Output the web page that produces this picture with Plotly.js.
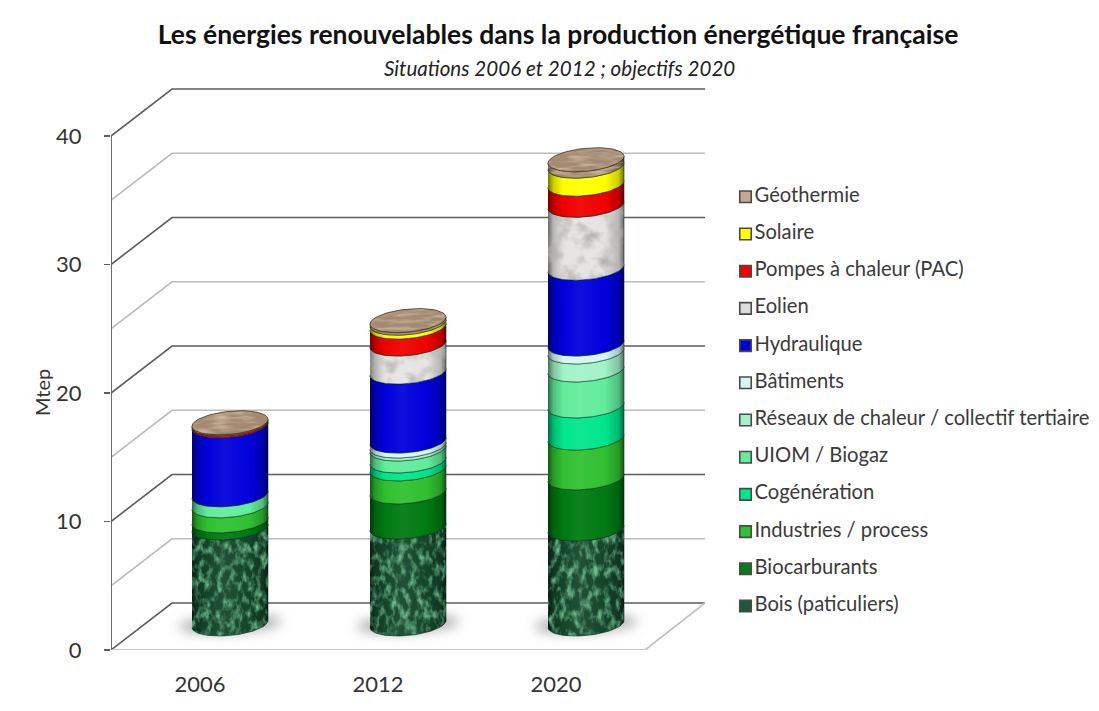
<!DOCTYPE html>
<html lang="fr">
<head>
<meta charset="utf-8">
<title>Les énergies renouvelables dans la production énergétique française</title>
<script src="https://cdn.plot.ly/plotly-3.0.1.min.js"></script>
<style>html,body{margin:0;padding:0;background:#fff}#chart{width:1099px;height:711px}</style>
</head>
<body>
<svg width="0" height="0" style="position:absolute">
  <defs>
    <filter id="texBois" x="0" y="0" width="1" height="1" color-interpolation-filters="sRGB">
      <feTurbulence type="fractalNoise" baseFrequency="0.16 0.09" numOctaves="3" seed="7" result="n"/>
      <feColorMatrix in="n" type="matrix" values="0 0 0 0 0.42  0 0 0 0 0.72  0 0 0 0 0.54  2.6 0 0 0 -1.12" result="v"/>
      <feComposite in="v" in2="SourceAlpha" operator="in" result="c"/>
      <feMerge><feMergeNode in="SourceGraphic"/><feMergeNode in="c"/></feMerge>
    </filter>
    <filter id="texEolien" x="0" y="0" width="1" height="1" color-interpolation-filters="sRGB">
      <feTurbulence type="fractalNoise" baseFrequency="0.06 0.07" numOctaves="3" seed="3" result="n"/>
      <feColorMatrix in="n" type="matrix" values="0 0 0 0 0.7  0 0 0 0 0.69  0 0 0 0 0.68  2.2 0 0 0 -0.9" result="v"/>
      <feComposite in="v" in2="SourceAlpha" operator="in" result="c"/>
      <feMerge><feMergeNode in="SourceGraphic"/><feMergeNode in="c"/></feMerge>
    </filter>
    <filter id="texGeo" x="0" y="0" width="1" height="1" color-interpolation-filters="sRGB">
      <feTurbulence type="fractalNoise" baseFrequency="0.05 0.28" numOctaves="2" seed="11" result="n"/>
      <feColorMatrix in="n" type="matrix" values="0 0 0 0 0.8  0 0 0 0 0.72  0 0 0 0 0.62  2.2 0 0 0 -0.9" result="v"/>
      <feComposite in="v" in2="SourceAlpha" operator="in" result="c"/>
      <feMerge><feMergeNode in="SourceGraphic"/><feMergeNode in="c"/></feMerge>
    </filter>
    <filter id="softShadow" x="-30%" y="-80%" width="160%" height="260%">
      <feGaussianBlur stdDeviation="6"/>
    </filter>
  </defs>
</svg>
<div id="chart"></div>
<script>
// Years and production by source, in Mtep, stacked from the bottom of each column.
const years = ['2006', '2012', '2020'];
const bois = [7.48, 7.55, 7.40];
const biocarburants = [0.55, 2.73, 3.97];
const industries = [1.17, 1.79, 3.10];
const cogeneration = [0, 0.62, 2.50];
const uiomBiogaz = [0.86, 0.93, 2.80];
const reseauxChaleur = [0, 0.23, 1.40];
const batiments = [0, 0.39, 0.62];
const hydraulique = [5.37, 5.37, 5.90];
const eolien = [0, 2.18, 4.90];
const pac = [0.15, 1.32, 1.64];
const solaire = [0, 0.30, 1.40];
const geothermie = [0.08, 0.20, 0.50];

const seriesNames = ['Bois (paticuliers)', 'Biocarburants', 'Industries / process', 'Cogénération',
  'UIOM / Biogaz', 'Réseaux de chaleur / collectif tertiaire', 'Bâtiments', 'Hydraulique', 'Eolien',
  'Pompes à chaleur (PAC)', 'Solaire', 'Géothermie'];
const seriesValues = [bois, biocarburants, industries, cogeneration, uiomBiogaz, reseauxChaleur,
  batiments, hydraulique, eolien, pac, solaire, geothermie];
const seriesColors = ['#14452a', '#007a12', '#30c030', '#00e68c', '#62ec9c', '#a2f2c8',
  '#d4f6f4', '#0000dc', '#e6e4e2', '#f00000', '#ffff00', '#a48a72'];
const keyColors = ['#1e5a3a', '#0a7a1a', '#30c030', '#00e68c', '#62ec9c', '#a2f2c8',
  '#d4f6f4', '#0000dc', '#dcdcdc', '#f00000', '#ffff00', '#caa890'];
const textureFilters = {0: 'texBois', 8: 'texEolien', 11: 'texGeo'};

const majorLevels = [0, 10, 20, 30, 40];
const minorLevels = [5, 15, 25, 35];

// Pixel frame of the plotting area and the scales that follow from it.
const W = 1099, H = 711, LEFT = 111, TOP = 88, BOTTOM = 650;
const PX_PER_YEAR = 178, PX_PER_MTEP = 12.85, YEAR0_PX = 200;
const xpx = p => p / PX_PER_YEAR;
const ypx = p => p / PX_PER_MTEP;
const xRange = [(LEFT - YEAR0_PX) / PX_PER_YEAR, (W - YEAR0_PX) / PX_PER_YEAR];
const yRange = [0, (BOTTOM - TOP) / PX_PER_MTEP];

// Oblique projection of the chart box.
const depthX = xpx(61), depthY = ypx(47);
const frontLeft = xRange[0], backLeft = frontLeft + depthX;
const backRight = xpx(705 - YEAR0_PX), frontRight = xpx(645 - YEAR0_PX);

// Cylinder proportions.
const rx = xpx(38), ry = ypx(11.5), tilt = ypx(3.5);
const baseX = xpx(30), baseY = ypx(26);

function arc(cx, cy, from, to, n) {
  const xs = [], ys = [];
  for (let i = 0; i <= n; i++) {
    const t = from + (to - from) * i / n;
    xs.push(cx + rx * Math.cos(t));
    ys.push(cy - ry * Math.sin(t) + tilt * Math.cos(t));
  }
  return [xs, ys];
}

function shade(hex, f) {
  const v = [1, 3, 5].map(i => parseInt(hex.substr(i, 2), 16));
  return 'rgb(' + v.map(c => Math.round(f >= 1 ? c + (255 - c) * (f - 1) : c * f)).join(',') + ')';
}

function cylinderGradient(color) {
  return {
    type: 'horizontal',
    colorscale: [[0, shade(color, 0.45)], [0.07, shade(color, 0.8)], [0.2, color], [0.42, shade(color, 1.06)],
      [0.75, color], [0.93, shade(color, 0.8)], [1, shade(color, 0.45)]]
  };
}

function wallLine(level, color, width) {
  return {
    x: [frontLeft, backLeft, backRight],
    y: [level, level + depthY, level + depthY],
    mode: 'lines', line: {color: color, width: width}, hoverinfo: 'skip', showlegend: false, cliponaxis: false
  };
}

const traces = [];
minorLevels.forEach(v => traces.push(wallLine(v, '#bcbcbc', 1.6)));
majorLevels.forEach(v => traces.push(wallLine(v, '#5c5c5c', 1.6)));

// Floor edges and vertical axis.
traces.push({x: [frontLeft, frontRight, backRight], y: [0, 0, depthY], mode: 'lines',
  line: {color: '#c4c4c4', width: 1.8}, hoverinfo: 'skip', showlegend: false, cliponaxis: false});
traces.push({x: [frontLeft, frontLeft], y: [0, 40], mode: 'lines',
  line: {color: '#5c5c5c', width: 1.8}, hoverinfo: 'skip', showlegend: false, cliponaxis: false});

const filtered = [];

// Soft shadows on the floor.
years.forEach((yr, i) => {
  const cx = i + baseX, cy = baseY;
  const [xs, ys] = arc(cx, cy, 0, 2 * Math.PI, 48);
  filtered.push([traces.length, 'softShadow']);
  traces.push({x: xs.map(v => cx + (v - cx) * 1.35), y: ys.map(v => cy + (v - cy) * 0.8), mode: 'lines', fill: 'toself',
    fillcolor: 'rgba(110,110,110,0.55)', line: {width: 0}, hoverinfo: 'skip', showlegend: false});
});

// Stacked cylinder segments, then the top cap.
years.forEach((yr, i) => {
  const cx = i + baseX;
  let level = baseY;
  seriesValues.forEach((vals, s) => {
    const v = vals[i];
    if (!v) return;
    const [bx, by] = arc(cx, level, Math.PI, 0, 36);
    const [tx, ty] = arc(cx, level + v, 0, Math.PI, 36);
    if (textureFilters[s]) filtered.push([traces.length, textureFilters[s]]);
    traces.push({
      x: bx.concat(tx), y: by.concat(ty), mode: 'lines', fill: 'toself',
      fillcolor: seriesColors[s], fillgradient: cylinderGradient(seriesColors[s]),
      line: {color: 'rgba(0,40,20,0.6)', width: 0.9}, name: seriesNames[s] + ' ' + yr,
      hoverinfo: 'skip', showlegend: false
    });
    level += v;
  });
  const [cxs, cys] = arc(cx, level, 0, 2 * Math.PI, 60);
  filtered.push([traces.length, 'texGeo']);
  traces.push({
    x: cxs, y: cys, mode: 'lines', fill: 'toself', fillcolor: '#a48a72',
    line: {color: 'rgba(60,40,20,0.75)', width: 1}, hoverinfo: 'skip', showlegend: false
  });
});

// Colour key, one row per source, with Bois at the bottom.
const keyRows = seriesNames.map((n, i) => i);
traces.push({
  x: keyRows.map(() => 0), y: keyRows, xaxis: 'x2', yaxis: 'y2', mode: 'markers',
  marker: {symbol: 'square', size: 11.5, color: keyColors, line: {color: '#4a4a4a', width: 1.6}},
  hoverinfo: 'skip', showlegend: false, cliponaxis: false
});
traces.push({
  x: keyRows.map(() => 9), y: keyRows, xaxis: 'x2', yaxis: 'y2', mode: 'text',
  text: seriesNames, textposition: 'middle right',
  textfont: {family: 'Lato, Carlito, sans-serif', size: 20.2, color: '#3a3a3a'},
  hoverinfo: 'skip', showlegend: false, cliponaxis: false
});

const keyLeft = 745.5, keyRowPx = 37.2, keyBottomPx = 606;
const layout = {
  width: W, height: H, autosize: false,
  paper_bgcolor: '#ffffff', plot_bgcolor: 'rgba(0,0,0,0)',
  margin: {l: LEFT, r: 0, t: TOP, b: H - BOTTOM, pad: 0},
  font: {family: 'Lato, Carlito, sans-serif', color: '#333333'},
  showlegend: false,
  title: {
    text: '<b>Les énergies renouvelables dans la production énergétique française</b>',
    font: {family: 'Lato, Carlito, sans-serif', size: 26.5, color: '#111111'},
    x: 558 / W, xanchor: 'center', y: 1 - 35 / H, yanchor: 'middle'
  },
  xaxis: {
    range: xRange, tickmode: 'array', tickvals: [0, 1, 2], ticktext: years,
    showgrid: false, zeroline: false, showline: false, ticks: '',
    tickfont: {size: 22, color: '#333333'}, ticklabelstandoff: 19, fixedrange: true
  },
  yaxis: {
    range: yRange, tickmode: 'array', tickvals: majorLevels,
    showgrid: false, zeroline: false, showline: false,
    ticks: 'outside', ticklen: 6, tickwidth: 1.6, tickcolor: '#5c5c5c',
    tickfont: {size: 22, color: '#333333'}, ticklabelstandoff: 18, fixedrange: true
  },
  xaxis2: {domain: [(keyLeft - LEFT) / (W - LEFT), 1], range: [0, W - keyLeft], anchor: 'y2', visible: false, fixedrange: true},
  yaxis2: {
    domain: [0, 1], anchor: 'x2', visible: false, fixedrange: true,
    range: [(keyBottomPx - BOTTOM) / keyRowPx, (keyBottomPx - TOP) / keyRowPx]
  },
  annotations: [
    {text: '<i>Situations 2006 et 2012 ; objectifs 2020</i>', xref: 'paper', yref: 'paper',
      x: (559 - LEFT) / (W - LEFT), y: (BOTTOM - 68) / (BOTTOM - TOP), xanchor: 'center', yanchor: 'middle',
      showarrow: false, font: {size: 20.6, color: '#222222'}},
    {text: 'Mtep', xref: 'paper', yref: 'paper', textangle: -90,
      x: (42 - LEFT) / (W - LEFT), y: (BOTTOM - 393) / (BOTTOM - TOP), xanchor: 'center', yanchor: 'middle',
      showarrow: false, font: {size: 20, color: '#333333'}}
  ]
};

Plotly.newPlot('chart', traces, layout, {displayModeBar: false, staticPlot: true}).then(gd => {
  // Stone, wood and shadow finishes on the filled areas.
  const groups = gd.querySelectorAll('.scatterlayer .trace');
  filtered.forEach(([idx, id]) => {
    const fill = groups[idx] && groups[idx].querySelector('.js-fill');
    if (fill) fill.setAttribute('filter', 'url(#' + id + ')');
  });
});
</script>
</body>
</html>
